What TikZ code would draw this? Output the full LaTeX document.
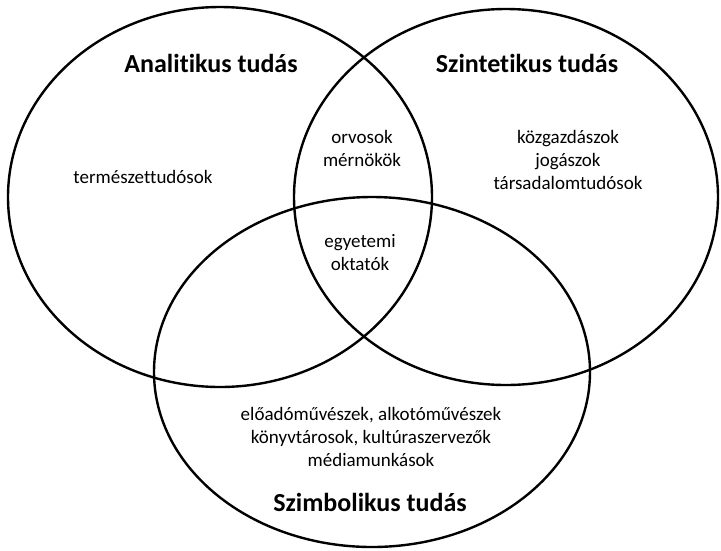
\documentclass[tikz,border=0pt]{standalone}
\usepackage{fontspec}
\setmainfont{Carlito}[Ligatures={NoCommon}]
\usepackage{tikz}
\usetikzlibrary{shapes.geometric, positioning}

\begin{document}
\begin{tikzpicture}[
      x=1pt, y=-1pt,
      halmaz/.style={
          ellipse,
          draw,
          line width=2.4pt,
          inner sep=0pt
        },
      cim/.style={
          font=\fontsize{26}{30}\selectfont\bfseries,
          align=center
        },
      tag/.style={
          font=\fontsize{19}{23}\selectfont,
          align=center
        }
    ]
    \useasboundingbox (0,0) rectangle (721,550);

    % Sets
    \node[halmaz, minimum width=424pt, minimum height=380pt] (anal) at (220,197) {};
    \node[halmaz, minimum width=424pt, minimum height=376pt] (szint) at (506,197) {};
    \node[halmaz, minimum width=436pt, minimum height=350pt] (szimb) at (372,372) {};

    % Titles
    \node[cim] (analcim) at (211,63) {Analitikus tudás};
    \node[cim] (szintcim) at (527,63) {Szintetikus tudás};
    \node[cim] (szimbcim) at (370,502) {Szimbolikus tudás};

    % Groups
    \node[tag] (termtud) at (143,177) {természettudósok};
    \node[tag] (orvos) at (362,148) {orvosok\\mérnökök};
    \node[tag] (egyetem) at (360,253) {egyetemi\\oktatók};
    \node[tag] (kozgazd) at (568,160) {közgazdászok\\jogászok\\társadalomtudósok};
    \node[tag] (muvesz) at (371,437) {előadóművészek, alkotóművészek\\könyvtárosok, kultúraszervezők\\médiamunkások};

  \end{tikzpicture}
\end{document}
